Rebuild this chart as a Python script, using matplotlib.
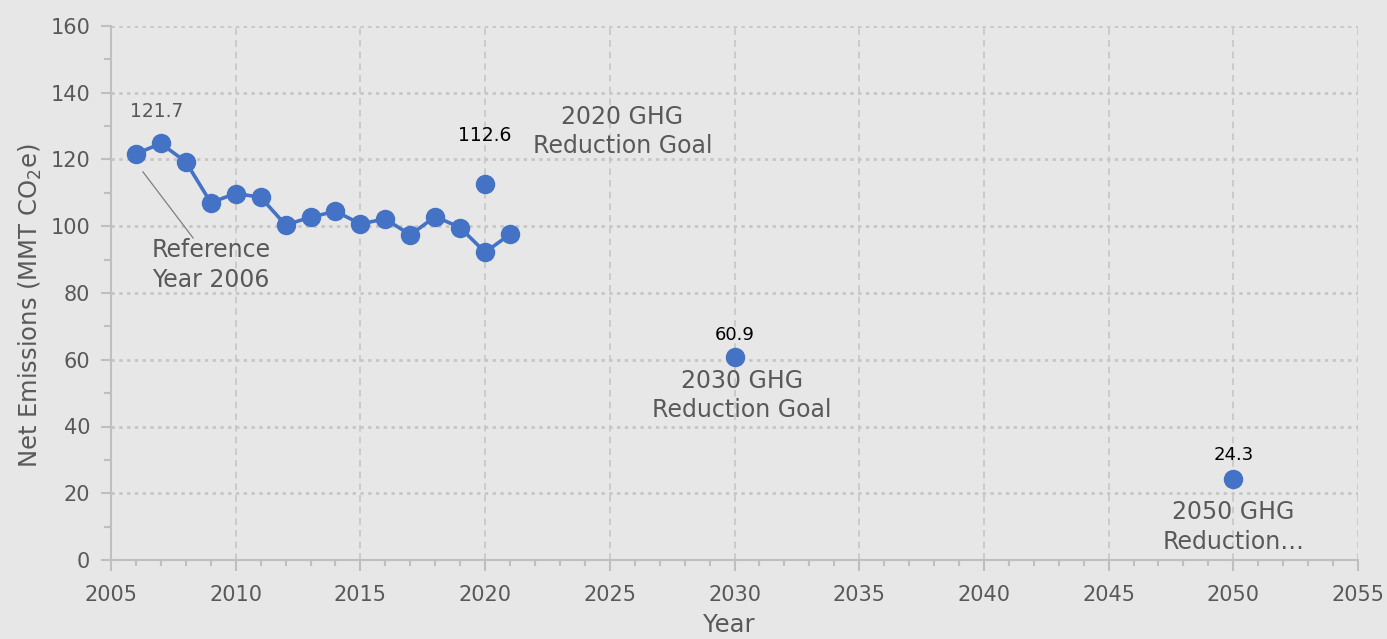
import matplotlib.pyplot as plt
from matplotlib.ticker import MultipleLocator

# historical net emissions (MMT CO2e)
years = [2006, 2007, 2008, 2009, 2010, 2011, 2012, 2013, 2014, 2015,
         2016, 2017, 2018, 2019, 2020, 2021]
emissions = [121.7, 124.8, 119.3, 107.1, 109.8, 108.7, 100.4, 102.7, 104.5, 100.7,
             102.2, 97.4, 102.9, 99.6, 92.2, 97.6]

# reduction goals
goal_years = [2020, 2030, 2050]
goal_values = [112.6, 60.9, 24.3]
goal_names = ["2020 GHG\nReduction Goal", "2030 GHG\nReduction Goal", "2050 GHG\nReduction\u2026"]

plt.rcParams['font.family'] = ['DejaVu Sans']
blue = '#4472C4'
grey_txt = '#595959'
bg = '#E7E7E7'
gridc = '#C6C6C6'

fig = plt.figure(figsize=(13.87, 6.39), dpi=100, facecolor=bg)
ax = fig.add_axes([111/1387, 1 - 560/639, (1358-111)/1387, (560-26)/639])
ax.set_facecolor(bg)

ax.plot(years, emissions, color=blue, lw=2.6, marker='o', ms=13, zorder=3)
ax.plot(goal_years, goal_values, ls='none', color=blue, marker='o', ms=13, zorder=3)

ax.set_xlim(2005, 2055)
ax.set_ylim(0, 160)
ax.xaxis.set_major_locator(MultipleLocator(5))
ax.xaxis.set_minor_locator(MultipleLocator(1))
ax.yaxis.set_major_locator(MultipleLocator(20))
ax.yaxis.set_minor_locator(MultipleLocator(10))

ax.grid(axis='y', which='major', color=gridc, ls=(0, (1.2, 1.6)), lw=2)
ax.grid(axis='x', which='major', color=gridc, ls=(0, (4, 3)), lw=1.2)
ax.set_axisbelow(True)

for s in ['top', 'right']:
    ax.spines[s].set_visible(False)
for s in ['left', 'bottom']:
    ax.spines[s].set_color('#BFBFBF')
    ax.spines[s].set_linewidth(1.5)

ax.tick_params(axis='both', which='both', color='#BFBFBF', width=1.5, labelcolor=grey_txt, labelsize=15)
ax.tick_params(axis='x', which='major', direction='out', length=8, pad=10)
ax.tick_params(axis='x', which='minor', direction='out', length=4)
ax.tick_params(axis='y', which='major', direction='out', length=7, pad=8)
ax.tick_params(axis='y', which='minor', direction='out', length=5)

ax.set_xlabel('Year', fontsize=17.5, color=grey_txt)
ax.xaxis.set_label_coords(0.4955, -0.1)
ax.set_ylabel('Net Emissions (MMT CO$_2$e)', fontsize=17.5, color=grey_txt)
ax.yaxis.set_label_coords(-0.054, 0.476)

# value labels
ax.text(2006.85, 134.3, f'{emissions[0]}', ha='center', va='center', fontsize=13.5, color=grey_txt)
ax.text(goal_years[0], 127.3, f'{goal_values[0]}', ha='center', va='center', fontsize=13.5, color='black')
ax.text(goal_years[1], 67.4, f'{goal_values[1]}', ha='center', va='center', fontsize=13, color='black')
ax.text(goal_years[2], 31.5, f'{goal_values[2]}', ha='center', va='center', fontsize=13, color='black')

# goal names
ax.text(2025.5, 128.5, goal_names[0], ha='center', va='center', fontsize=17, color=grey_txt, linespacing=1.27)
ax.text(2030.3, 49.3, goal_names[1], ha='center', va='center', fontsize=17, color=grey_txt, linespacing=1.27)
ax.text(2050, 9.9, goal_names[2], ha='center', va='center', fontsize=17, color=grey_txt, linespacing=1.27)

# reference year callout
ax.text(2009.0, 88.4, 'Reference\nYear 2006', ha='center', va='center', fontsize=17, color=grey_txt, linespacing=1.27)
ax.plot([2006.28, 2008.29], [116.3, 96.5], color='#7F7F7F', lw=0.9, zorder=2)

fig.savefig('out.png', dpi=100, facecolor=bg)
